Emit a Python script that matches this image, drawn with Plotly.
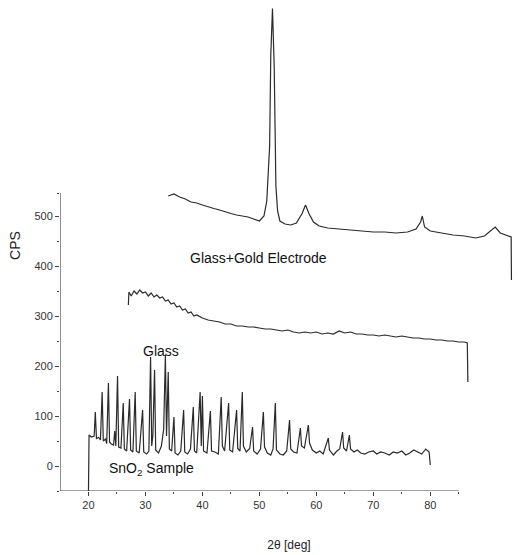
import plotly.graph_objects as go

# SnO2 sample pattern
sno2_x = [20.0, 20.1, 20.5, 21.0, 21.2, 21.4, 21.8, 22.1, 22.4, 22.6, 23.0, 23.2, 23.5, 23.7, 24.0, 24.4, 24.6, 24.8,
          25.1, 25.3, 25.7, 26.1, 26.3, 26.7, 27.2, 27.4, 27.8, 28.2, 28.4, 28.9, 29.5, 29.7, 30.2, 30.6, 30.9, 31.1,
          31.3, 31.6, 31.8, 32.3, 32.8, 33.2, 33.5, 33.7, 34.0, 34.2, 34.6, 35.0, 35.2, 35.7, 36.2, 36.7, 36.9, 37.4,
          37.9, 38.4, 38.6, 39.0, 39.6, 39.8, 40.0, 40.2, 40.8, 41.4, 41.6, 42.2, 42.8, 43.3, 43.5, 43.9, 44.6, 44.8,
          45.3, 46.0, 46.2, 46.6, 47.0, 47.2, 47.7, 48.3, 48.8, 49.0, 49.6, 50.2, 50.7, 50.9, 51.4, 52.0, 52.4, 52.8,
          53.0, 53.6, 54.2, 54.8, 55.3, 55.5, 56.0, 56.6, 57.2, 57.4, 57.9, 58.6, 58.8, 59.3, 60.0, 60.6, 61.2, 62.1,
          62.3, 63.0, 63.6, 64.1, 64.6, 64.8, 65.3, 65.8, 66.0, 66.6, 67.2, 67.8, 68.5, 69.2, 70.0, 70.6, 71.3, 72.0,
          72.8, 73.5, 74.2, 75.0, 75.7, 76.4, 77.1, 77.8, 78.5, 79.2, 79.8, 80.0]
sno2_y = [-50, 62, 58, 60, 108, 55, 57, 52, 148, 50, 54, 45, 166, 48, 44, 42, 70, 40,
          180, 38, 36, 126, 34, 30, 134, 32, 28, 148, 30, 26, 112, 28, 24, 30, 218, 40,
          60, 192, 32, 26, 40, 74, 222, 60, 188, 34, 30, 98, 26, 22, 30, 112, 28, 24,
          34, 118, 30, 26, 148, 40, 140, 30, 26, 110, 30, 28, 24, 138, 40, 30, 126, 32,
          28, 112, 35, 30, 148, 40, 28, 35, 78, 30, 24, 34, 108, 38, 26, 22, 34, 126,
          32, 24, 22, 30, 92, 34, 28, 26, 76, 40, 36, 82, 46, 32, 26, 30, 24, 56,
          32, 22, 30, 34, 68, 36, 30, 62, 34, 28, 32, 26, 24, 28, 30, 24, 28, 26,
          22, 28, 26, 30, 22, 26, 32, 28, 24, 34, 28, 2]

# Glass pattern
glass_x = [27.0, 27.1, 27.5, 28, 28.5, 29, 29.5, 30, 30.5, 31, 31.5, 32, 32.5, 33, 33.5, 34, 34.5, 35, 35.5, 36,
           36.5, 37, 37.5, 38, 38.5, 39, 40, 41, 42, 43, 44, 45, 46, 47, 48, 49, 50, 51, 52, 53, 54, 55, 56, 57,
           58, 59, 60, 61, 62, 63, 64, 65, 66, 67, 68, 69, 70, 71, 72, 73, 74, 75, 76, 77, 78, 79, 80, 81, 82,
           83, 84, 85, 86, 86.5, 86.6]
glass_y = [322, 348, 340, 350, 344, 352, 346, 348, 340, 346, 338, 342, 336, 338, 330, 332, 324, 326, 318, 320,
           312, 314, 306, 308, 300, 302, 296, 292, 290, 288, 284, 284, 280, 280, 278, 278, 276, 274, 274, 272,
           270, 272, 268, 266, 268, 266, 268, 264, 266, 264, 270, 266, 268, 264, 264, 262, 262, 260, 262, 260,
           258, 260, 258, 256, 256, 254, 254, 252, 252, 250, 250, 248, 248, 246, 168]

# Glass + gold electrode pattern
gold_x = [34.0, 35, 36, 37, 38, 39, 40, 41, 42, 43, 44, 45, 46, 47, 48, 49, 50, 50.8, 51.3, 51.8, 52.0, 52.3,
          52.6, 52.9, 53.2, 53.6, 54.5, 55.5, 56.5, 57.5, 58.1, 58.7, 59.5, 60.5, 62, 64, 66, 68, 70, 72, 74, 76,
          77.5, 78.3, 78.6, 79, 80, 82, 84, 86, 88, 89.5, 90.5, 91.4, 92.3, 93.5, 94.2, 94.25]
gold_y = [540, 544, 538, 534, 528, 526, 522, 518, 515, 512, 508, 505, 502, 500, 498, 494, 490, 500, 530, 640,
          820, 915, 800, 560, 510, 490, 484, 482, 486, 505, 522, 505, 488, 480, 476, 474, 472, 470, 468, 468,
          466, 468, 474, 488, 500, 478, 470, 466, 462, 460, 456, 460, 470, 478, 466, 460, 458, 372]

x_ticks = [20, 30, 40, 50, 60, 70, 80]
y_ticks = [0, 100, 200, 300, 400, 500]

fig = go.Figure()
line_style = dict(color="#2a2a2a", width=1.2)
for xs, ys in [(sno2_x, sno2_y), (glass_x, glass_y), (gold_x, gold_y)]:
    fig.add_trace(go.Scatter(x=xs, y=ys, mode="lines", line=line_style,
                             showlegend=False, hoverinfo="x+y"))

axis_col = "#444444"
fig.add_shape(type="line", xref="x", yref="y", x0=15, x1=15, y0=-50, y1=546,
              line=dict(color=axis_col, width=1.2))
fig.add_shape(type="line", xref="x", yref="y", x0=15, x1=85, y0=-50, y1=-50,
              line=dict(color=axis_col, width=1.2))

fig.add_annotation(x=49.8, y=416, text="Glass+Gold Electrode", showarrow=False,
                   font=dict(size=14, color="#111"))
fig.add_annotation(x=32.8, y=230, text="Glass", showarrow=False,
                   font=dict(size=14, color="#111"))
fig.add_annotation(x=31.0, y=-6, text="SnO<sub>2</sub> Sample", showarrow=False,
                   font=dict(size=14, color="#111"))

fig.update_layout(
    width=518, height=555,
    margin=dict(l=60, r=0, t=0, b=64),
    plot_bgcolor="white", paper_bgcolor="white",
    font=dict(family="Liberation Sans, Arial, sans-serif", color="#333"),
    xaxis=dict(range=[15, 95.4], tickvals=x_ticks, ticktext=[str(v) for v in x_ticks],
               ticks="outside", ticklen=4, tickcolor=axis_col, showgrid=False, zeroline=False,
               showline=False, tickfont=dict(size=11, color="#333"),
               minor=dict(tickvals=[25, 35, 45, 55, 65, 75, 85], ticks="outside", ticklen=2,
                          tickcolor=axis_col),
               title=dict(text="2θ [deg]", font=dict(size=12, color="#222"), standoff=30)),
    yaxis=dict(range=[-50, 932], tickvals=y_ticks, ticktext=[str(v) for v in y_ticks],
               ticks="outside", ticklen=4, tickcolor=axis_col, showgrid=False, zeroline=False,
               showline=False, tickfont=dict(size=11, color="#333"),
               minor=dict(tickvals=[-50, 50, 150, 250, 350, 450, 546], ticks="outside", ticklen=2,
                          tickcolor=axis_col),
               title=dict(text="CPS", font=dict(size=14, color="#222"), standoff=10)),
)

fig.write_html("out.html", config={"displayModeBar": False})

# remove the default page margin so the figure sits at the window's top-left corner
with open("out.html", "r", encoding="utf-8") as f:
    html = f.read()
html = html.replace("<body>", '<body style="margin:0;padding:0">', 1)
with open("out.html", "w", encoding="utf-8") as f:
    f.write(html)
